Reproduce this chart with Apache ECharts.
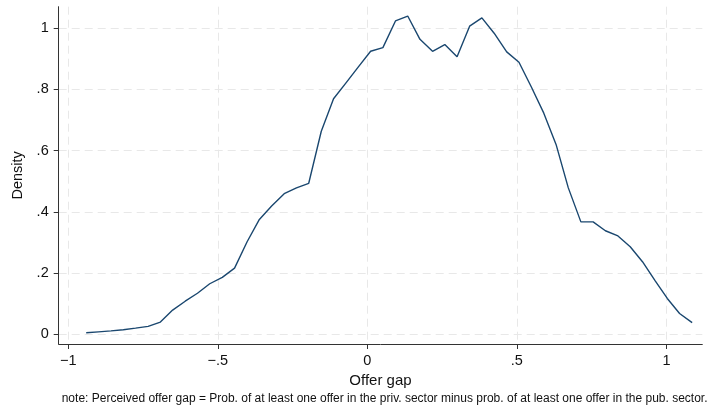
<!DOCTYPE html>
<html>
<head>
<meta charset="utf-8">
<script src="https://cdn.jsdelivr.net/npm/echarts@6/dist/echarts.min.js"></script>
<style>
html,body{margin:0;padding:0;background:#fff;}
#chart{width:709px;height:408px;}
</style>
</head>
<body>
<div id="chart"></div>
<script>
// Offer gap grid (kernel density evaluation points)
var offerGap = [-0.940,-0.899,-0.857,-0.816,-0.775,-0.733,-0.692,-0.651,-0.609,-0.568,
  -0.527,-0.485,-0.444,-0.402,-0.361,-0.320,-0.278,-0.237,-0.196,-0.154,
  -0.113,-0.072,-0.030,0.011,0.052,0.094,0.135,0.176,0.218,0.259,
  0.300,0.342,0.383,0.424,0.466,0.507,0.548,0.590,0.631,0.672,
  0.714,0.755,0.796,0.838,0.879,0.920,0.962,1.003,1.044,1.086];
var density = [0.005,0.008,0.011,0.015,0.020,0.026,0.040,0.079,0.108,0.134,
  0.165,0.186,0.216,0.302,0.375,0.419,0.459,0.478,0.493,0.663,
  0.769,0.820,0.873,0.924,0.936,1.023,1.039,0.963,0.924,0.946,
  0.906,1.006,1.033,0.983,0.922,0.888,0.808,0.722,0.620,0.478,
  0.367,0.367,0.338,0.321,0.286,0.237,0.175,0.117,0.068,0.038];
var xTickValues = [-1,-0.5,0,0.5,1];
var xTickLabels = ['\u22121','\u2212.5','0','.5','1'];
var yTickValues = [0,0.2,0.4,0.6,0.8,1];
var yTickLabels = ['0','.2','.4','.6','.8','1'];
var xTitle = 'Offer gap';
var yTitle = 'Density';
var noteText = 'note: Perceived offer gap = Prob. of at least one offer in the priv. sector minus prob. of at least one offer in the pub. sector.';

var seriesData = offerGap.map(function(x,i){return [x,density[i]];});
function lab(vals,labs){return function(v){for(var i=0;i<vals.length;i++){if(Math.abs(vals[i]-v)<1e-9)return labs[i];}return '';};}
var fontFam = '"Liberation Sans", Arial, Helvetica, sans-serif';
var chart = echarts.init(document.getElementById('chart'), null, {renderer:'canvas'});
chart.setOption({
  animation:false,
  backgroundColor:'#ffffff',
  textStyle:{fontFamily:fontFam},
  grid:{left:58.7,right:6.7,top:6.7,bottom:64,containLabel:false},
  xAxis:{
    type:'value', min:-1.032, max:1.12,
    name:xTitle, nameLocation:'middle', nameGap:29,
    nameTextStyle:{fontSize:15,color:'#111',fontFamily:fontFam},
    axisLine:{show:true,onZero:false,lineStyle:{color:'#333',width:1}},
    axisTick:{show:true,length:5,customValues:xTickValues,lineStyle:{color:'#333'}},
    axisLabel:{customValues:xTickValues,formatter:lab(xTickValues,xTickLabels),fontSize:14.5,color:'#111',margin:9,fontFamily:fontFam},
    splitLine:{show:true,lineStyle:{color:'#e8e8e8',type:[8,5],width:1}}
  },
  yAxis:{
    type:'value', min:-0.0317, max:1.0695,
    name:yTitle, nameLocation:'middle', nameGap:33, nameRotate:90,
    nameTextStyle:{fontSize:14.5,color:'#111',fontFamily:fontFam},
    axisLine:{show:true,onZero:false,lineStyle:{color:'#333',width:1}},
    axisTick:{show:true,length:5,customValues:yTickValues,lineStyle:{color:'#333'}},
    axisLabel:{customValues:yTickValues,formatter:lab(yTickValues,yTickLabels),fontSize:14.5,color:'#111',margin:10,fontFamily:fontFam},
    splitLine:{show:true,lineStyle:{color:'#e8e8e8',type:[8,5],width:1}}
  },
  graphic:[{type:'text',left:61.7,top:393,style:{text:noteText,fontSize:12,fill:'#111',fontFamily:fontFam}}],
  series:[{type:'line',data:seriesData,showSymbol:false,symbol:'none',smooth:false,
    lineStyle:{color:'#1a476f',width:1.4},itemStyle:{color:'#1a476f'}}]
});
</script>
</body>
</html>
